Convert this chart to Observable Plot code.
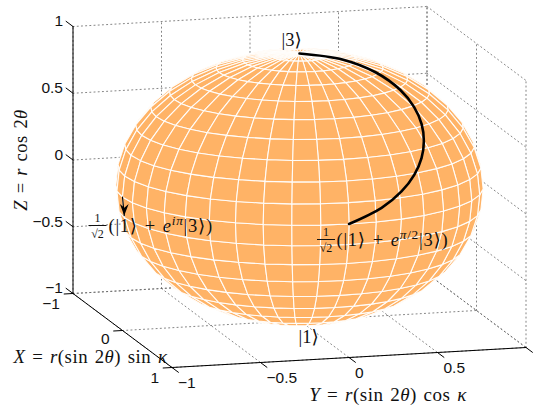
<!DOCTYPE html>
<html>
<head>
<meta charset="utf-8">
<script src="https://cdn.jsdelivr.net/npm/d3@7"></script>
<script src="https://cdn.jsdelivr.net/npm/@observablehq/plot@0.6"></script>
<style>
html,body{margin:0;padding:0;background:#fff}
svg{display:block}
</style>
</head>
<body>
<div id="chart"></div>
<script>
// Axes ticks
const xTicks = [-1, 0, 1];
const yTicks = [-1, -0.5, 0, 0.5, 1];
const zTicks = [-1, -0.5, 0, 0.5, 1];
const yLabelled = [-1, -0.5, 0, 0.5];
const tickText = v => String(v).replace("-", "\u2212");

// Surface mesh
const latitudeSteps = 20;
const longitudeSteps = 40;

// Black path on the sphere
const pathX = [0, 0.116, 0.244, 0.384, 0.503, 0.608, 0.703, 0.788, 0.863, 0.927, 0.976, 1];
const pathY = [0, 0.214, 0.361, 0.461, 0.507, 0.520, 0.506, 0.469, 0.407, 0.317, 0.191, 0];
const pathZ = [1, 0.97, 0.9, 0.8, 0.7, 0.6, 0.5, 0.4, 0.3, 0.2, 0.1, 0];

// Arrow on the left side of the sphere
const arrowX = [0, 0];
const arrowY = [-1, -0.99];
const arrowZ = [0, -0.14];

// Texts
const zLabel = "*Z* = *r* cos 2*θ*";
const xLabel = "*X* = *r*(sin 2*θ*) sin *κ*";
const yLabel = "*Y* = *r*(sin 2*θ*) cos *κ*";
const ket3 = "|3⟩";
const ket1 = "|1⟩";
const stateA = "(|1⟩ + *e*^{*iπ*}|3⟩)";
const stateB = "(|1⟩ + *e*^{*π*/2}|3⟩)";

// Axonometric view of the unit cube, in page-sized units
const view = {xu: 49.5, yu: 177, xv: 37, yv: -10, zv: -133.5};
const uOf = (X, Y) => view.xu * X + view.yu * Y;
const vOf = (X, Y, Z) => view.xv * X + view.yv * Y + view.zv * Z;
const toward = [0.926, -0.259, 0.276];
const P = (X, Y, Z, extra = {}) => ({u: uOf(X, Y), v: vOf(X, Y, Z), ...extra});

// Surface facets, far ones first
const facets = [];
for (let i = 0; i < latitudeSteps; i++) {
  for (let j = 0; j < longitudeSteps; j++) {
    const corners = [[i, j], [i + 1, j], [i + 1, j + 1], [i, j + 1]].map(([a, b]) => {
      const t = a * Math.PI / latitudeSteps, k = b * 2 * Math.PI / longitudeSteps;
      return [Math.sin(t) * Math.cos(k), Math.sin(t) * Math.sin(k), Math.cos(t)];
    });
    const depth = d3.sum(corners, c => c[0] * toward[0] + c[1] * toward[1] + c[2] * toward[2]) / 4;
    if (depth > -0.1) facets.push({depth, corners});
  }
}
facets.sort((a, b) => a.depth - b.depth);
const facetPts = facets.flatMap((f, id) => f.corners.map(c => P(c[0], c[1], c[2], {id})));

// Dotted grid on floor and two walls
const grid = [];
const seg = (a, b) => { const id = grid.length; grid.push(P(...a, {id}), P(...b, {id})); };
for (const x of xTicks) { seg([x, -1, -1], [x, 1, -1]); seg([x, 1, -1], [x, 1, 1]); }
for (const y of yTicks) { seg([-1, y, -1], [1, y, -1]); seg([-1, y, -1], [-1, y, 1]); }
for (const z of zTicks) { seg([-1, -1, z], [-1, 1, z]); seg([-1, 1, z], [1, 1, z]); }

// Axis lines and tick marks
const axes = [];
const axSeg = (a, b) => { const id = axes.length; axes.push(P(...a, {id}), P(...b, {id})); };
axSeg([-1, -1, -1], [-1, -1, 1]);
axSeg([-1, -1, -1], [1, -1, -1]);
axSeg([1, -1, -1], [1, 1, -1]);
for (const z of zTicks) axSeg([-1, -1, z], [-1.14, -1, z]);
for (const x of xTicks) axSeg([x, -1, -1], [x, -1.05, -1]);
for (const y of yTicks) axSeg([1, y, -1], [1.13, y, -1]);

const path = pathX.map((x, i) => P(x, pathY[i], pathZ[i]));
const arrow = arrowX.map((x, i) => P(x, arrowY[i], arrowZ[i]));

const sans = "'Liberation Sans', Arial, sans-serif";
const serif = "'Liberation Serif', 'DejaVu Serif', serif";

const textAt = (anchor, text, o) => Plot.text([P(...anchor, {text})], {x: "u", y: "v", text: "text", fill: "#111", ...o});
const fractionBar = (anchor, o) => Plot.link([P(...anchor)], {x1: d => d.u - 9, x2: d => d.u + 9, y1: "v", y2: "v", stroke: "#111", strokeWidth: 1, ...o});

const arrowHead = {draw(c, s) { const r = Math.sqrt(s); c.moveTo(0, 0); c.lineTo(-r * 0.45, -r * 1.2); c.lineTo(0, -r * 0.8); c.lineTo(r * 0.45, -r * 1.2); c.closePath(); }};

const chart = Plot.plot({
  width: 536, height: 409,
  margin: 0,
  x: {domain: [-299, 237], range: [0, 536], axis: null},
  y: {domain: [-186.5, 222.5], range: [0, 409], axis: null},
  style: {background: "#fff", fontFamily: sans},
  marks: [
    Plot.line(grid, {x: "u", y: "v", z: "id", stroke: "#666", strokeWidth: 0.8, strokeDasharray: "1.1 3.1"}),
    Plot.line(axes, {x: "u", y: "v", z: "id", stroke: "#000", strokeWidth: 1}),
    Plot.line(facetPts, {x: "u", y: "v", z: "id", curve: "linear-closed", fill: "#ffb366", stroke: "#fff", strokeWidth: 1.1, strokeOpacity: 0.92}),
    Plot.line(path, {x: "u", y: "v", stroke: "#000", strokeWidth: 2.6, curve: "catmull-rom"}),
    Plot.line(arrow, {x: "u", y: "v", stroke: "#000", strokeWidth: 1.2}),
    Plot.dot(arrow.slice(1), {x: "u", y: "v", r: 5.5, fill: "#000", stroke: "none", symbol: arrowHead}),

    ...zTicks.map(z => textAt([-1, -1, z], tickText(z), {textAnchor: "end", dx: -10, dy: -5, fontSize: 15.5, fontFamily: sans})),
    ...xTicks.map(x => textAt([x, -1, -1], tickText(x), {textAnchor: "end", dx: -13, dy: x === 0 ? 9 : 11, fontSize: 15.5, fontFamily: sans})),
    ...yLabelled.map(y => textAt([1, y, -1], tickText(y), {textAnchor: "start", dx: 6, dy: 16, fontSize: 15.5, fontFamily: sans})),

    textAt([-1, -1, 0], zLabel, {rotate: -90, dx: -52, dy: 0, fontSize: 18.5, fontFamily: serif}),
    textAt([0, -1, -1], xLabel, {dx: -32, dy: 26, fontSize: 18.8, fontFamily: serif}),
    textAt([1, 0, -1], yLabel, {dx: 39, dy: 37, fontSize: 19, fontFamily: serif}),

    textAt([0, 0, 1], ket3, {dx: -8, dy: -13, fontSize: 18.5, fontFamily: serif}),
    textAt([0, 0, -1], ket1, {dx: 9, dy: 17, fontSize: 18.5, fontFamily: serif}),

    textAt([0, -1, 0], "1", {dx: -25, dy: 21.5, fontSize: 12, fontFamily: serif}),
    fractionBar([0, -1, 0], {dx: -25, dy: 28.5}),
    textAt([0, -1, 0], "√2", {dx: -25, dy: 37.5, fontSize: 12, fontFamily: serif}),
    textAt([0, -1, 0], stateA, {textAnchor: "start", dx: -14, dy: 29, fontSize: 18.5, fontFamily: serif}),

    textAt([1, 0, 0], "1", {dx: -23, dy: 8, fontSize: 12, fontFamily: serif}),
    fractionBar([1, 0, 0], {dx: -23, dy: 15.5}),
    textAt([1, 0, 0], "√2", {dx: -23, dy: 24.5, fontSize: 12, fontFamily: serif}),
    textAt([1, 0, 0], stateB, {textAnchor: "start", dx: -12.5, dy: 16, fontSize: 18.5, fontFamily: serif})
  ]
});

// Turn the *italic* and ^{superscript} markers of the labels into tspans
function rich(el) {
  const raw = el.textContent;
  if (!/[*^]/.test(raw)) return;
  el.textContent = "";
  el.style.letterSpacing = raw.includes("^") ? "0.75px" : "0.5px";
  el.style.wordSpacing = "1.5px";
  const ns = "http://www.w3.org/2000/svg";
  let pendingDy = null;
  const add = (txt, italic, sup) => {
    if (!txt) return;
    const t = document.createElementNS(ns, "tspan");
    t.textContent = txt;
    if (italic) t.setAttribute("font-style", "italic");
    if (sup) t.setAttribute("font-size", "0.72em");
    if (pendingDy != null) { t.setAttribute("dy", pendingDy); pendingDy = null; }
    el.appendChild(t);
  };
  const italics = (s, sup) => s.split("*").forEach((part, i) => add(part, i % 2 === 1, sup));
  raw.split(/(\^\{[^}]*\})/).forEach(chunk => {
    const m = chunk.match(/^\^\{(.*)\}$/);
    if (m) {
      pendingDy = "-7";
      italics(m[1], true);
      pendingDy = "7";
    } else italics(chunk, false);
  });
}
chart.querySelectorAll("text").forEach(rich);
document.getElementById("chart").appendChild(chart);
</script>
</body>
</html>
